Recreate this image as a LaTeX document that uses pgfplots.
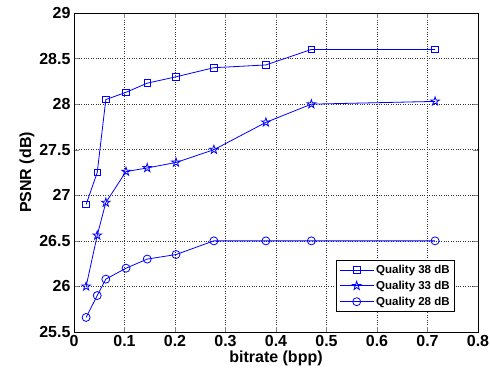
\documentclass[border=0pt]{standalone}
\usepackage{pgfplots}
\pgfplotsset{compat=1.18}
\usepackage{fontspec}
\setmainfont{Liberation Sans}
\pgfdeclareplotmark{pentagram}{%
  \pgfpathmoveto{\pgfpointpolar{90}{\pgfplotmarksize}}%
  \pgfpathlineto{\pgfpointpolar{126}{0.382\pgfplotmarksize}}%
  \pgfpathlineto{\pgfpointpolar{162}{\pgfplotmarksize}}%
  \pgfpathlineto{\pgfpointpolar{198}{0.382\pgfplotmarksize}}%
  \pgfpathlineto{\pgfpointpolar{234}{\pgfplotmarksize}}%
  \pgfpathlineto{\pgfpointpolar{270}{0.382\pgfplotmarksize}}%
  \pgfpathlineto{\pgfpointpolar{306}{\pgfplotmarksize}}%
  \pgfpathlineto{\pgfpointpolar{342}{0.382\pgfplotmarksize}}%
  \pgfpathlineto{\pgfpointpolar{18}{\pgfplotmarksize}}%
  \pgfpathlineto{\pgfpointpolar{54}{0.382\pgfplotmarksize}}%
  \pgfpathclose
  \pgfusepathqstroke
}
\begin{document}
\begin{tikzpicture}
\useasboundingbox (-74pt,-44pt) rectangle (416pt,332pt);
\begin{axis}[
  scale only axis,
  width=404pt, height=319pt,
  xmin=0, xmax=0.8, ymin=25.5, ymax=29,
  xtick={0,0.1,...,0.8},
  ytick={25.5,26,...,29},
  /pgf/number format/assume math mode=true,
  tick label style={font=\fontsize{16}{19}\selectfont\bfseries},
  label style={font=\fontsize{16}{19}\selectfont\bfseries},
  xlabel={bitrate (bpp)},
  ylabel={PSNR (dB)},
  xlabel style={yshift=3pt},
  ylabel style={yshift=-2pt},
  grid=major,
  major grid style={black!80, dotted, line width=0.6pt},
  tick align=inside,
  major tick length=5pt,
  axis line style={black, line width=0.6pt},
  legend style={at={(0.943,0.063)}, anchor=south east, font=\fontsize{11.5}{14}\selectfont\bfseries, draw=black, line width=0.6pt, row sep=2pt, inner sep=3pt},
  legend cell align=left,
  legend image code/.code={
    \draw[mark repeat=2,mark phase=2] plot coordinates {(0cm,0cm) (0.6cm,0cm) (1.2cm,0cm)};
  },
  every axis plot/.append style={color=blue, line width=0.8pt, mark options={solid, line width=0.8pt}},
]
\addplot[mark=square, mark size=3.3pt] coordinates {
(0.024,26.90) (0.046,27.25) (0.063,28.05) (0.103,28.13) (0.145,28.23) (0.202,28.30) (0.277,28.40) (0.380,28.43) (0.470,28.60) (0.715,28.60)};
\addlegendentry{Quality 38 dB}
\addplot[mark=pentagram, mark size=4.5pt] coordinates {
(0.024,26.00) (0.046,26.56) (0.063,26.92) (0.103,27.26) (0.145,27.30) (0.202,27.36) (0.277,27.50) (0.380,27.80) (0.470,28.00) (0.715,28.03)};
\addlegendentry{Quality 33 dB}
\addplot[mark=o, mark size=4pt] coordinates {
(0.024,25.66) (0.046,25.90) (0.063,26.08) (0.103,26.20) (0.145,26.30) (0.202,26.35) (0.277,26.50) (0.380,26.50) (0.470,26.50) (0.715,26.50)};
\addlegendentry{Quality 28 dB}
\end{axis}
\end{tikzpicture}
\end{document}
